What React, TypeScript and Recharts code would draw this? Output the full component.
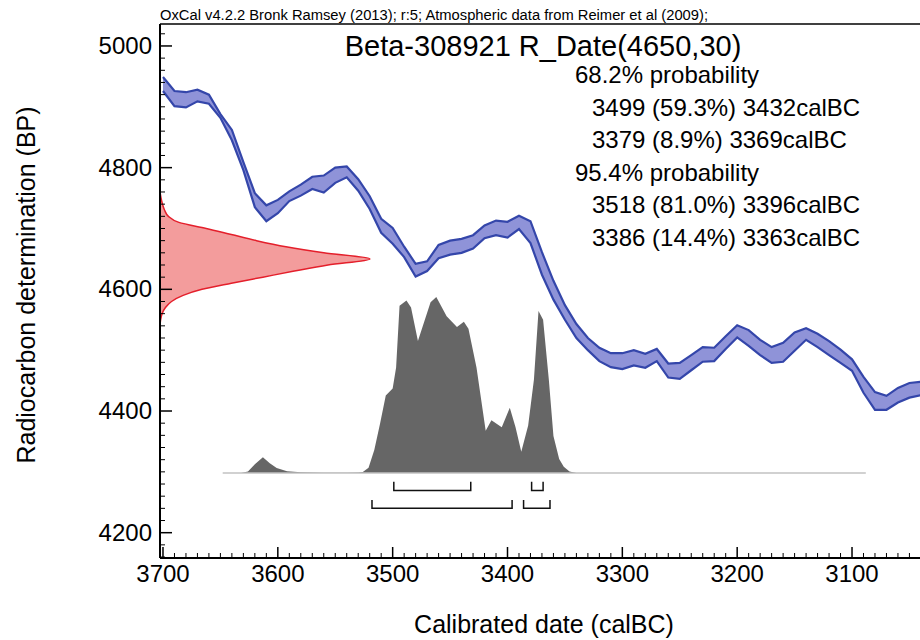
import React from 'react';
import { ComposedChart, Area, Line, XAxis, YAxis, ReferenceLine } from 'recharts';

const FONT = '"Liberation Sans", Arial, sans-serif';

// calibration curve band, every 10 years (calBC -> BP)
const CAL_YEARS = [
  3700, 3690, 3680, 3670, 3660, 3650, 3640, 3630, 3620, 3610,
  3600, 3590, 3580, 3570, 3560, 3550, 3540, 3530, 3520, 3510,
  3500, 3490, 3480, 3470, 3460, 3450, 3440, 3430, 3420, 3410,
  3400, 3390, 3380, 3370, 3360, 3350, 3340, 3330, 3320, 3310,
  3300, 3290, 3280, 3270, 3260, 3250, 3240, 3230, 3220, 3210,
  3200, 3190, 3180, 3170, 3160, 3150, 3140, 3130, 3120, 3110,
  3100, 3090, 3080, 3070, 3060, 3050, 3040,
];
const CURVE_HI = [
  4949, 4926, 4924, 4928, 4920, 4888, 4862, 4809, 4758, 4738,
  4747, 4761, 4772, 4785, 4787, 4800, 4802, 4781, 4753, 4716,
  4701, 4670, 4642, 4646, 4673, 4680, 4683, 4689, 4705, 4713,
  4711, 4721, 4712, 4661, 4614, 4574, 4543, 4520, 4504, 4495,
  4495, 4500, 4494, 4502, 4478, 4479, 4492, 4505, 4504, 4523,
  4541, 4533, 4517, 4505, 4512, 4529, 4536, 4527, 4515, 4501,
  4485, 4456, 4431, 4425, 4438, 4446, 4448,
];
const CURVE_LO = [
  4926, 4901, 4899, 4909, 4905, 4882, 4845, 4796, 4735, 4712,
  4725, 4745, 4754, 4765, 4759, 4775, 4784, 4762, 4732, 4693,
  4675, 4653, 4621, 4630, 4651, 4657, 4660, 4667, 4684, 4689,
  4685, 4699, 4676, 4624, 4583, 4550, 4520, 4500, 4482, 4472,
  4469, 4475, 4471, 4482, 4455, 4453, 4467, 4481, 4482, 4502,
  4521, 4507, 4492, 4479, 4481, 4499, 4517, 4505, 4492, 4479,
  4466, 4430, 4402, 4402, 4414, 4422, 4426,
];

// measurement 4650 +/- 30 BP, relative height of the red curve
const MEAS_BP = [
  4760, 4750, 4740, 4730, 4720, 4710, 4700, 4690, 4680, 4670, 4660, 4650,
  4640, 4630, 4620, 4610, 4600, 4590, 4580, 4570, 4560, 4550, 4540,
];
const MEAS_DENS = [
  0, 0.005, 0.012, 0.022, 0.04, 0.09, 0.22, 0.34, 0.46, 0.6, 0.78, 1,
  0.8, 0.64, 0.49, 0.34, 0.2, 0.11, 0.055, 0.026, 0.01, 0.003, 0,
];

// calibrated distribution (relative probability)
const POST_YEARS = [
  3632, 3626, 3620, 3613, 3607, 3601, 3592, 3580, 3560, 3540,
  3530, 3526, 3521, 3516, 3511, 3506, 3500, 3497, 3494, 3488,
  3484, 3478, 3467, 3462, 3453, 3444, 3438, 3434, 3427, 3419,
  3414, 3405, 3398, 3393, 3388, 3382, 3377, 3373, 3369, 3364,
  3360, 3355, 3351, 3346, 3340,
];
const POST_PROB = [
  0, 0.008, 0.05, 0.089, 0.055, 0.028, 0.01, 0.004, 0.002, 0.002,
  0.003, 0.005, 0.03, 0.13, 0.28, 0.44, 0.48, 0.6, 0.95, 0.98,
  0.94, 0.75, 0.97, 1, 0.89, 0.83, 0.86, 0.82, 0.6, 0.24,
  0.3, 0.26, 0.37, 0.26, 0.12, 0.27, 0.53, 0.92, 0.87, 0.53,
  0.21, 0.08, 0.035, 0.008, 0,
];
const BASELINE_YEARS = [3648, 3088];

const RANGES_68 = [[3499, 3432], [3379, 3369]];
const RANGES_95 = [[3518, 3396], [3386, 3363]];

const HEADER = 'OxCal v4.2.2 Bronk Ramsey (2013); r:5; Atmospheric data from Reimer et al (2009);';
const TITLE = 'Beta-308921 R_Date(4650,30)';
const RESULT_LINES = [
  '68.2% probability',
  '3499 (59.3%) 3432calBC',
  '3379 (8.9%) 3369calBC',
  '95.4% probability',
  '3518 (81.0%) 3396calBC',
  '3386 (14.4%) 3363calBC',
];

const X_TICKS: number[] = [];
for (let v = 3700; v >= 3050; v -= 10) X_TICKS.push(v);
const Y_TICKS: number[] = [];
for (let v = 4160; v <= 5020; v += 20) Y_TICKS.push(v);

const X_DOMAIN: [number, number] = [3040.8, 3702.6];
const Y_DOMAIN: [number, number] = [4158.4, 5034.5];
const P_DOMAIN: [number, number] = [-0.483, 2.545];
const DENS_DOMAIN: [number, number] = [0, 3.62];

const curveData = CAL_YEARS.map((cal, i) => ({ cal, hi: CURVE_HI[i], lo: CURVE_LO[i] }));
const measData = MEAS_BP.map((bp, i) => ({ bp, dens: MEAS_DENS[i] }));
const postData = POST_YEARS.map((cal, i) => ({ cal, p: POST_PROB[i] }));
const baselineData = BASELINE_YEARS.map((cal) => ({ cal, p: 0 }));

const bracket = (r: number[], top: number, bar: number) => [
  { cal: r[0], p: top },
  { cal: r[0], p: bar },
  { cal: r[1], p: bar },
  { cal: r[1], p: top },
];
const brackets = [
  ...RANGES_68.map((r) => bracket(r, -0.05, -0.1)),
  ...RANGES_95.map((r) => bracket(r, -0.153, -0.2)),
];

const XTick = (props: any) => {
  const { x, y, payload } = props;
  const major = payload.value % 100 === 0;
  return (
    <g>
      <line x1={x} x2={x} y1={y} y2={y - (major ? 11 : 5)} stroke="#000" strokeWidth={major ? 1.5 : 1} />
      {major && (
        <text x={x} y={y + 24} textAnchor="middle" fontSize={24} fontFamily={FONT} fill="#000">
          {payload.value}
        </text>
      )}
    </g>
  );
};

const YTick = (props: any) => {
  const { x, y, payload } = props;
  const major = payload.value % 200 === 0;
  return (
    <g>
      <line x1={x} x2={x + (major ? 12 : 5)} y1={y} y2={y} stroke="#000" strokeWidth={major ? 1.5 : 1} />
      {major && (
        <text x={x - 8} y={y + 8} textAnchor="end" fontSize={24} fontFamily={FONT} fill="#000">
          {payload.value}
        </text>
      )}
    </g>
  );
};

export default function App() {
  return (
    <div style={{ position: 'absolute', left: 0, top: 0, width: 920, height: 640, background: '#fff' }}>
      {/* measurement distribution hanging off the BP axis */}
      <div style={{ position: 'absolute', left: 0, top: 0 }}>
        <ComposedChart
          layout="vertical"
          width={920}
          height={640}
          data={measData}
          margin={{ top: 24, right: 0, bottom: 82, left: 160 }}
        >
          <XAxis type="number" domain={DENS_DOMAIN} allowDataOverflow hide />
          <YAxis type="number" dataKey="bp" domain={[4158.4, 5036.1]} allowDataOverflow reversed hide />
          <Area
            type="monotone"
            dataKey="dens"
            baseValue={0}
            stroke="#e41f2b"
            strokeWidth={1.5}
            fill="#f39c9c"
            fillOpacity={1}
            dot={false}
            isAnimationActive={false}
          />
        </ComposedChart>
      </div>

      <div style={{ position: 'absolute', left: 0, top: 0 }}>
        <ComposedChart width={920} height={640} margin={{ top: 24, right: 0, bottom: 0, left: 0 }}>
          <XAxis
            xAxisId="cal"
            dataKey="cal"
            type="number"
            domain={X_DOMAIN}
            allowDataOverflow
            reversed
            ticks={X_TICKS}
            interval={0}
            height={82}
            tickSize={0}
            tickMargin={0}
            tickLine={false}
            axisLine={{ stroke: '#000', strokeWidth: 2 }}
            tick={(p: any) => <XTick {...p} />}
          />
          <YAxis
            yAxisId="bp"
            type="number"
            domain={[4158.4, 5036.1]}
            allowDataOverflow
            ticks={Y_TICKS}
            interval={0}
            width={160}
            tickSize={0}
            tickMargin={0}
            tickLine={false}
            axisLine={{ stroke: '#000', strokeWidth: 2 }}
            tick={(p: any) => <YTick {...p} />}
          />
          <YAxis yAxisId="prob" type="number" domain={[-0.483, 2.551]} allowDataOverflow hide />
          <ReferenceLine xAxisId="cal" yAxisId="bp" y={5036.1} stroke="#000" strokeWidth={1.5} />

          <Line
            xAxisId="cal"
            yAxisId="prob"
            data={baselineData}
            dataKey="p"
            stroke="#c2c2c2"
            strokeWidth={1.5}
            dot={false}
            isAnimationActive={false}
          />
          <Area
            xAxisId="cal"
            yAxisId="prob"
            data={postData}
            dataKey="p"
            type="linear"
            baseValue={0}
            stroke="none"
            fill="#666666"
            fillOpacity={1}
            isAnimationActive={false}
          />
          {brackets.map((b, i) => (
            <Line
              key={i}
              xAxisId="cal"
              yAxisId="prob"
              data={b}
              dataKey="p"
              type="linear"
              stroke="#111"
              strokeWidth={1.5}
              dot={false}
              isAnimationActive={false}
            />
          ))}
          <Area
            xAxisId="cal"
            yAxisId="bp"
            data={curveData}
            dataKey={(d: any) => [d.lo, d.hi]}
            type="linear"
            stroke="#3446aa"
            strokeWidth={2.2}
            fill="#8f93d8"
            fillOpacity={1}
            isAnimationActive={false}
          />
        </ComposedChart>
      </div>

      <svg width={920} height={640} style={{ position: 'absolute', left: 0, top: 0, pointerEvents: 'none' }}>
        <g fontFamily={FONT} fill="#000">
          <text x={160} y={20} fontSize={14} textLength={548} lengthAdjust="spacingAndGlyphs">
            {HEADER}
          </text>
          <text x={543} y={56} fontSize={29} textAnchor="middle">{TITLE}</text>
          {RESULT_LINES.map((t, i) => (
            <text key={t} x={t.includes('probability') ? 575 : 592} y={83 + i * 32.6} fontSize={24}>
              {t}
            </text>
          ))}
          <text x={544} y={633} fontSize={25} textAnchor="middle">Calibrated date (calBC)</text>
          <text x={35} y={285} fontSize={25} textAnchor="middle" transform="rotate(-90 35 285)">
            Radiocarbon determination (BP)
          </text>
        </g>
      </svg>
    </div>
  );
}
